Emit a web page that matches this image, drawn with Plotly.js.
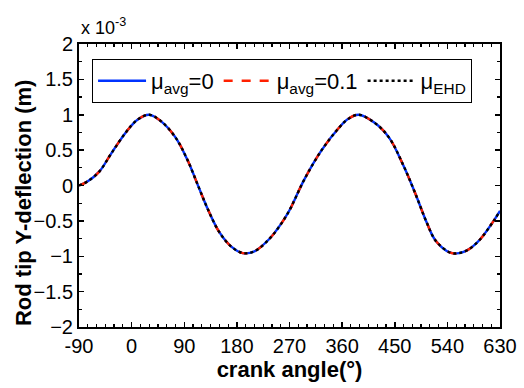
<!DOCTYPE html>
<html>
<head>
<meta charset="utf-8">
<script src="https://cdn.plot.ly/plotly-3.0.1.min.js"></script>
<style>html,body{margin:0;padding:0;background:#fff;}#chart{width:524px;height:388px;}</style>
</head>
<body>
<div id="chart"></div>
<script>
// crank angle (deg)
var crankAngle = [-90,-75,-55,-35,-10,10,30,50,75,95,115,130,150,170,190,210,235,255,270,280,295,325,355,370,388,415,440,465,485,505,520,545,560,575,595,620,630];
// rod tip Y-deflection (x 1e-3 m)
var defMu0   = [0,0.06,0.2,0.45,0.75,0.93,1.0,0.91,0.68,0.37,-0.03,-0.33,-0.66,-0.86,-0.955,-0.93,-0.76,-0.55,-0.35,-0.18,0.08,0.5,0.82,0.94,1.0,0.89,0.68,0.28,-0.11,-0.53,-0.78,-0.95,-0.955,-0.91,-0.77,-0.49,-0.36];
var defMu01  = [0,0.06,0.2,0.45,0.75,0.93,1.0,0.91,0.68,0.37,-0.03,-0.33,-0.66,-0.86,-0.955,-0.93,-0.76,-0.55,-0.35,-0.18,0.08,0.5,0.82,0.94,1.0,0.89,0.68,0.28,-0.11,-0.53,-0.78,-0.95,-0.955,-0.91,-0.77,-0.49,-0.36];
var defEHD   = [0,0.06,0.2,0.45,0.75,0.93,1.0,0.91,0.68,0.37,-0.03,-0.33,-0.66,-0.86,-0.955,-0.93,-0.76,-0.55,-0.35,-0.18,0.08,0.5,0.82,0.94,1.0,0.89,0.68,0.28,-0.11,-0.53,-0.78,-0.95,-0.955,-0.91,-0.77,-0.49,-0.36];
var seriesNames = ['μ<sub>avg</sub>=0','μ<sub>avg</sub>=0.1','μ<sub>EHD</sub>'];
var xTicks = [-90,0,90,180,270,360,450,540,630];

var font = 'Liberation Sans, Arial, sans-serif';
var traces = [
  {x: crankAngle, y: defMu0, name: seriesNames[0], mode:'lines', line:{color:'#0033ff', width:2.4, shape:'spline'}},
  {x: crankAngle, y: defMu01, name: seriesNames[1], mode:'lines', line:{color:'#ff2000', width:2.4, dash:'dash', shape:'spline'}},
  {x: crankAngle, y: defEHD, name: seriesNames[2], mode:'lines', line:{color:'#000000', width:2.4, dash:'dot', shape:'spline'}}
];
var layout = {
  width:524, height:388,
  margin:{l:79, r:24, t:44, b:61},
  paper_bgcolor:'#fff', plot_bgcolor:'#fff',
  font:{family:font, color:'#000', size:19},
  showlegend:true,
  legend:{orientation:'h', x:0.031, y:0.947, xanchor:'left', yanchor:'top',
          bgcolor:'#fff', bordercolor:'#000', borderwidth:1,
          font:{family:font, size:22, color:'#000'}, itemwidth:48, tracegroupgap:0},
  xaxis:{range:[-90,630], tickvals:xTicks, ticktext:xTicks.map(String),
         ticks:'inside', ticklen:5, tickwidth:1.5, tickcolor:'#000',
         showline:true, linecolor:'#000', linewidth:2, mirror:'ticks',
         showgrid:false, zeroline:false,
         minor:{dtick:15, tick0:-90, ticks:'inside', ticklen:3, tickwidth:1.2, tickcolor:'#000', showgrid:false},
         tickfont:{family:font, size:20},
         title:{text:'<b>crank angle(°)</b>', font:{family:font, size:22}, standoff:6}},
  yaxis:{range:[-2,2], dtick:0.5, tick0:0,
         ticks:'inside', ticklen:5, tickwidth:1.5, tickcolor:'#000',
         showline:true, linecolor:'#000', linewidth:2, mirror:'ticks',
         showgrid:false, zeroline:false,
         minor:{dtick:0.25, ticks:'inside', ticklen:3, tickwidth:1.2, tickcolor:'#000', showgrid:false},
         tickfont:{family:font, size:20}},
  annotations:[
    {text:'x 10<sup>-3</sup>', xref:'paper', yref:'paper', x:0, y:1.0, xanchor:'left', yanchor:'bottom',
     showarrow:false, font:{family:font, size:18, color:'#000'}, yshift:4},
    {text:'<b>Rod tip Y-deflection (m)</b>', xref:'paper', yref:'paper', x:-0.133, y:0.438, xanchor:'center', yanchor:'middle',
     textangle:-90, showarrow:false, font:{family:font, size:22, color:'#000'}}
  ]
};
Plotly.newPlot('chart', traces, layout, {displayModeBar:false, staticPlot:true});
</script>
</body>
</html>
